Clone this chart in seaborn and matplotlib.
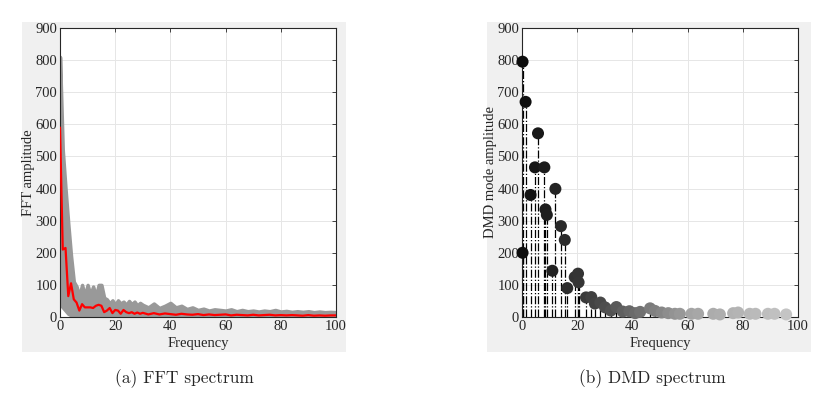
import numpy as np
import pandas as pd
import seaborn as sns
import matplotlib.pyplot as plt
from matplotlib.patches import Rectangle
from matplotlib.colors import LinearSegmentedColormap

# FFT spectrum (left): frequency grid, envelope of all signals and their mean
fft_freq = list(range(0, 31)) + list(range(32, 101, 2))
fft_upper = [810, 520, 400, 290, 190, 110, 95, 65, 100, 65, 100, 70, 95, 65, 100, 100,
             60, 55, 42, 52, 38, 52, 42, 48, 38, 50, 40, 48, 36, 44, 38,
             30, 42, 28, 35, 44, 30, 35, 25, 30, 22, 26, 20, 24, 22, 20, 24, 18, 22,
             18, 20, 17, 20, 18, 22, 17, 19, 16, 18, 16, 18, 15, 17, 15, 16, 15]
fft_lower = [40, 30, 20, 10, 5, 3] + [0] * 60
fft_mean = [590, 210, 215, 65, 105, 55, 45, 20, 40, 30, 30, 30, 28, 35, 38, 35,
            15, 20, 28, 12, 22, 20, 10, 22, 15, 12, 15, 10, 14, 10, 13,
            8, 12, 8, 11, 9, 7, 10, 8, 7, 9, 6, 8, 6, 7, 8, 5, 7, 6,
            5, 7, 5, 6, 7, 5, 6, 5, 6, 5, 4, 6, 4, 5, 4, 5, 5]

# DMD spectrum (right): mode frequency and amplitude
dmd_freq = [0.2, 1.3, 0.2, 3.1, 4.7, 5.8, 8.1, 8.5, 9.0, 11.0, 12.1, 14.1, 15.5, 16.4,
            19.1, 20.3, 20.5, 23.2, 25.1, 26.4, 28.4, 30.1, 32.2, 34.2, 36.5, 38.9,
            41.0, 42.8, 46.4, 48.2, 50.6, 53.0, 55.4, 57.2, 61.4, 63.8, 69.3, 71.7,
            76.5, 78.3, 82.5, 84.6, 89.1, 91.5, 95.7]
dmd_amp = [795, 670, 200, 380, 466, 572, 466, 335, 318, 144, 399, 283, 240, 90,
           124, 135, 108, 61, 62, 42, 45, 30, 20, 31, 17, 18,
           12, 16, 27, 19, 14, 12, 10, 10, 10, 10, 10, 8,
           12, 14, 10, 10, 10, 10, 8]

sns.set_theme(style="white")
plt.rcParams['font.family'] = ['Liberation Serif', 'DejaVu Serif']
plt.rcParams['xtick.direction'] = 'in'
plt.rcParams['ytick.direction'] = 'in'

fig = plt.figure(figsize=(8.3, 4.12), dpi=100)
fig.patch.set_facecolor('white')

# matlab style grey figure panels
for x0 in [22 / 830, 487 / 830]:
    fig.patches.append(Rectangle((x0, 1 - 352 / 412), 324 / 830, 330 / 412,
                                 transform=fig.transFigure, facecolor='#f0f0f0',
                                 edgecolor='none', zorder=-5))

ax1 = fig.add_axes([60 / 830, 1 - 317 / 412, 276 / 830, 289 / 412])
ax2 = fig.add_axes([522 / 830, 1 - 317 / 412, 276 / 830, 289 / 412])

df_fft = pd.DataFrame({"Frequency": fft_freq, "upper": fft_upper,
                       "lower": fft_lower, "mean": fft_mean})
ax1.fill_between(df_fft["Frequency"], df_fft["lower"], df_fft["upper"],
                 color='#999999', linewidth=2.5, edgecolor='#999999', zorder=2)
sns.lineplot(data=df_fft, x="Frequency", y="mean", color='red', linewidth=1.6,
             ax=ax1, zorder=3)
ax1.set_ylabel("FFT amplitude", labelpad=0)

df_dmd = pd.DataFrame({"Frequency": dmd_freq, "amp": dmd_amp})
ax2.vlines(df_dmd["Frequency"], 0, df_dmd["amp"], colors='black',
           linestyles='dashdot', linewidth=0.9, zorder=2)
greys = LinearSegmentedColormap.from_list(
    "greys", [(0, '#0d0d0d'), (0.23, '#3a3a3a'), (0.46, '#7a7a7a'),
              (0.62, '#a5a5a5'), (1, '#c8c8c8')])
sns.scatterplot(data=df_dmd, x="Frequency", y="amp", hue="Frequency",
                palette=greys, hue_norm=(0, 100), s=75, linewidth=0,
                legend=False, ax=ax2, zorder=3, clip_on=False)
ax2.set_ylabel("DMD mode amplitude", labelpad=0)

for ax in [ax1, ax2]:
    ax.set_xlim(0, 100)
    ax.set_ylim(0, 900)
    ax.set_xticks(range(0, 101, 20))
    ax.set_yticks(range(0, 901, 100))
    ax.set_xlabel("Frequency", fontsize=10.5, labelpad=3)
    ax.yaxis.label.set_size(10.5)
    ax.grid(True, color='#e6e6e6', linewidth=0.7)
    ax.set_axisbelow(True)
    ax.tick_params(labelsize=10.5, length=3, width=0.6, top=True, right=True,
                   colors='#262626', pad=2)
    for sp in ax.spines.values():
        sp.set_color('#262626')
        sp.set_linewidth(0.8)
    ax.set_facecolor('white')

fig.text(184 / 830, 1 - 379 / 412, "(a) FFT spectrum", family='cmr10',
         fontsize=12.5, ha='center', va='center')
fig.text(652 / 830, 1 - 379 / 412, "(b) DMD spectrum", family='cmr10',
         fontsize=12.5, ha='center', va='center')

fig.savefig("out.png", dpi=100)
